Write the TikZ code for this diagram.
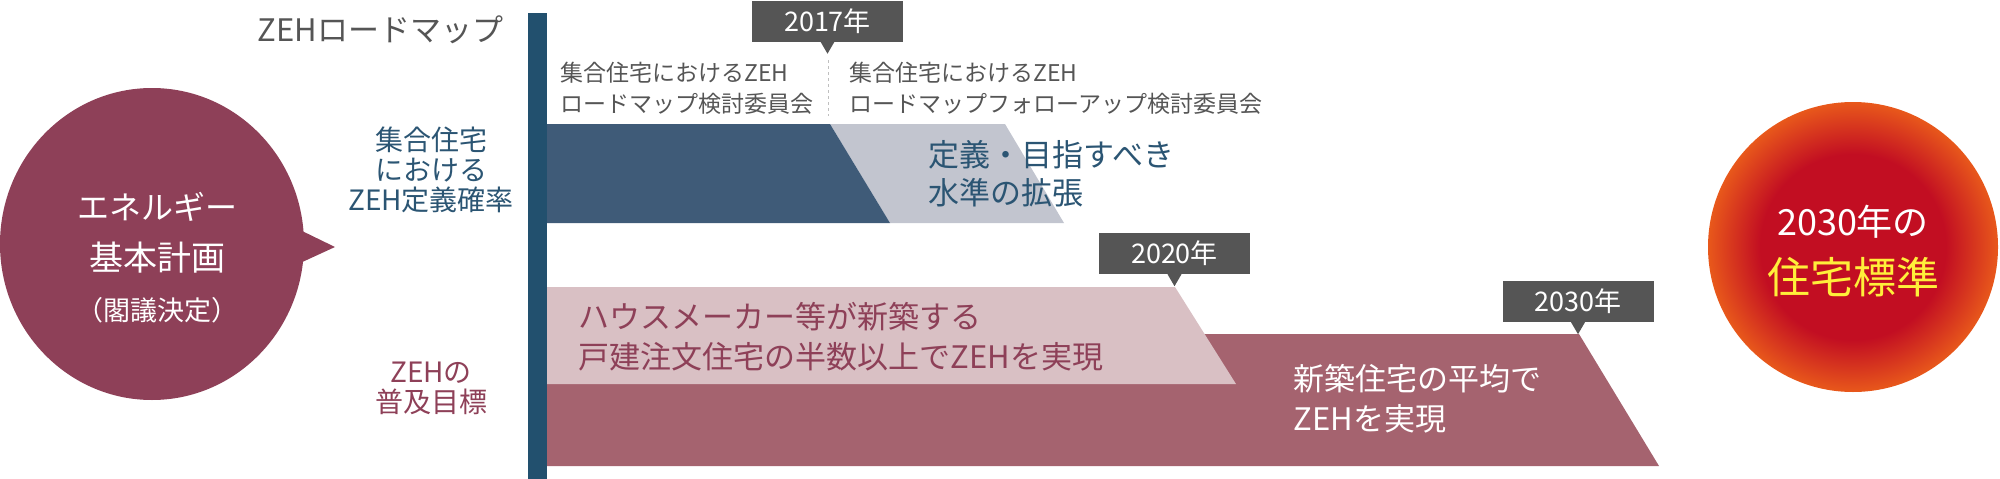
\documentclass[tikz,border=0pt]{standalone}
\usepackage{fontspec}
\setmainfont{Noto Sans CJK JP}
\usetikzlibrary{calc}
\definecolor{bubblered}{HTML}{8E4058}
\definecolor{barblue}{HTML}{22506E}
\definecolor{bandblue}{HTML}{3F5B78}
\definecolor{bandgray}{HTML}{C2C5CF}
\definecolor{bandpink}{HTML}{D9C0C4}
\definecolor{bandrose}{HTML}{A5636F}
\definecolor{yeargray}{HTML}{555555}
\definecolor{textblue}{HTML}{2B5573}
\definecolor{textgray}{HTML}{555555}
\definecolor{sunred}{HTML}{C20E22}
\definecolor{sunorange}{HTML}{E8581B}
\definecolor{sunyellow}{HTML}{FFEF3A}
\pgfdeclareradialshading{sunball}{\pgfpoint{0bp}{0bp}}{color(0bp)=(sunred); color(16bp)=(sunred); color(25bp)=(sunorange); color(50bp)=(sunorange)}
\begin{document}
\begin{tikzpicture}[x=1pt,y=-1pt,
    yearbox/.style={fill=yeargray,text=white,minimum width=151,minimum height=41,inner sep=0,font={\fontsize{27}{27}\selectfont}},
    rowlabel/.style={align=center,font={\fontsize{28}{30}\selectfont}},
    smallnote/.style={anchor=west,align=left,textgray,font={\fontsize{23}{31}\selectfont}},
    bandtext/.style={anchor=west,align=left,font={\fontsize{31}{40}\selectfont}}]
        \useasboundingbox (0,0) rectangle (2000,479);

        % speech bubble
        \fill[bubblered] (152,244) ellipse (152 and 156);
        \fill[bubblered] (298,229) -- (335,247) -- (298,264) -- cycle;
        \node[white,font={\fontsize{32}{32}\selectfont}] (bubbleA) at (157,207) {エネルギー};
        \node[white,font={\fontsize{34}{34}\selectfont}] (bubbleB) at (157,258) {基本計画};
        \node[white,font={\fontsize{27}{27}\selectfont}] (bubbleC) at (157,310) {（閣議決定）};

        \node[anchor=east,textgray,font={\fontsize{31}{31}\selectfont}] (roadmap) at (507,30) {ZEHロードマップ};
        \node[rowlabel,textblue] (rowA) at (431,170) {集合住宅\\における\\ZEH定義確率};
        \node[rowlabel,bubblered] (rowB) at (431,388) {ZEHの\\普及目標};

        % bands
        \fill[bandgray] (830,124) -- (1005,124) -- (1064,223) -- (890,223) -- cycle;
        \fill[bandblue] (540,124) -- (830,124) -- (890,223) -- (540,223) -- cycle;
        \fill[bandrose] (540,334) -- (1579,334) -- (1659,466) -- (540,466) -- cycle;
        \fill[bandpink] (540,287) -- (1175,287) -- (1236,384) -- (540,384) -- cycle;
        \fill[barblue] (528,13) rectangle (547,479);

        % year tags
        \node[yearbox] (y2017) at (827.5,21) {2017年};
        \fill[yeargray] ($(y2017.south)+(-7,0)$) -- ($(y2017.south)+(0,12)$) -- ($(y2017.south)+(7,0)$) -- cycle;
        \node[yearbox] (y2020) at (1174.5,253.5) {2020年};
        \fill[yeargray] ($(y2020.south)+(-7,0)$) -- ($(y2020.south)+(0,12)$) -- ($(y2020.south)+(7,0)$) -- cycle;
        \node[yearbox] (y2030) at (1578,301.5) {2030年};
        \fill[yeargray] ($(y2030.south)+(-7,0)$) -- ($(y2030.south)+(0,12)$) -- ($(y2030.south)+(7,0)$) -- cycle;

        \coordinate (splitA) at (828,60);
        \coordinate (splitB) at (828,116);
        \draw[draw=gray!50,line width=1,dashed] (splitA) -- (splitB);

        \node[smallnote] (noteA) at (557,88) {集合住宅におけるZEH\\ロードマップ検討委員会};
        \node[smallnote] (noteB) at (846,88) {集合住宅におけるZEH\\ロードマップフォローアップ検討委員会};

        \node[bandtext,textblue,font={\fontsize{31}{38}\selectfont}] (defA) at (925,174) {定義・目指すべき\\水準の拡張};
        \node[bandtext,bubblered] (goalA) at (575,337) {ハウスメーカー等が新築する\\戸建注文住宅の半数以上でZEHを実現};
        \node[bandtext,white] (goalB) at (1290,399) {新築住宅の平均で\\ZEHを実現};

        % 2030 target
        \shade[shading=sunball] (1853,247) circle (145);
        \node[white,font={\fontsize{36}{36}\selectfont}] (targetA) at (1853,222) {2030年の};
        \node[sunyellow,font={\fontsize{43}{43}\selectfont}] (targetB) at (1853,277) {住宅標準};
\end{tikzpicture}
\end{document}
